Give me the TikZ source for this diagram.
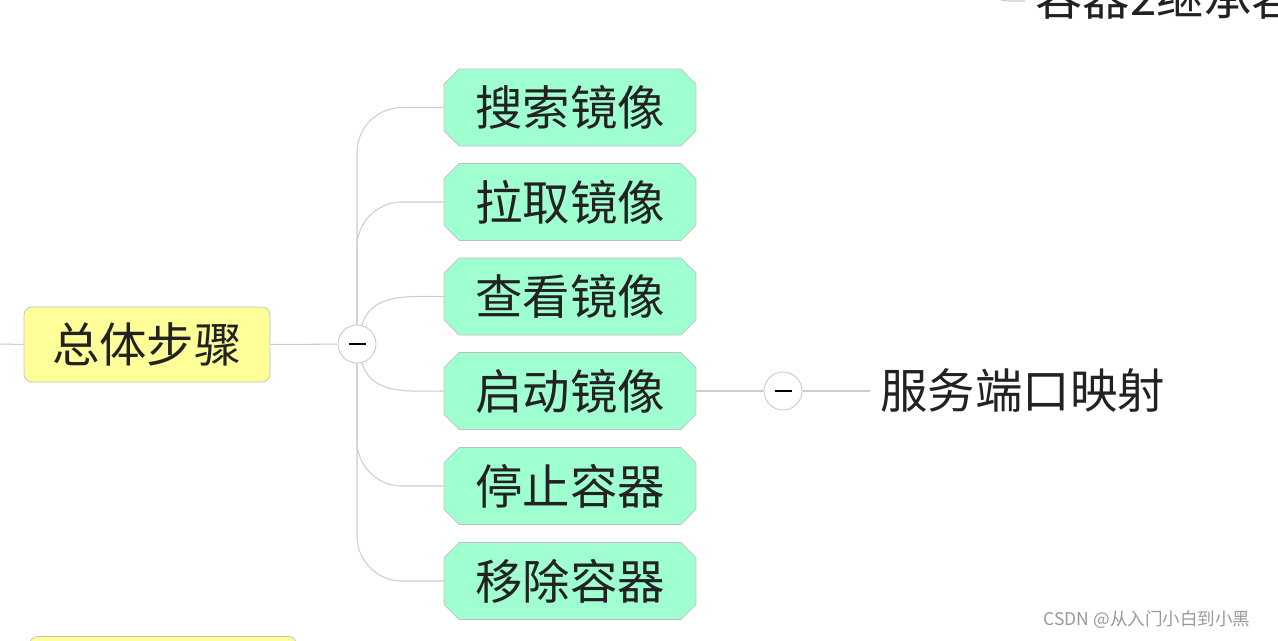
\documentclass[tikz,border=0pt]{standalone}
\usepackage{fontspec}
\newfontfamily\cjk{Noto Sans CJK SC}
\usepackage{tikz}
\usetikzlibrary{positioning,shapes.misc}
\definecolor{mintgreen}{RGB}{160,255,208}
\definecolor{paleyellow}{RGB}{255,255,153}
\definecolor{edgegray}{RGB}{192,192,192}
\definecolor{linegray}{RGB}{205,205,205}
\definecolor{inkgray}{RGB}{34,34,34}

\begin{document}
\begin{tikzpicture}[x=0.02cm, y=-0.02cm,
    topic/.style={rectangle, rounded corners=0.16cm, draw=edgegray, fill=paleyellow, minimum width=4.92cm, minimum height=1.5cm, text=inkgray, font=\cjk\fontsize{27}{30}\selectfont},
    stepnode/.style={chamfered rectangle, chamfered rectangle xsep=0.15cm, chamfered rectangle ysep=0.15cm, draw=edgegray, fill=mintgreen, minimum width=5.04cm, minimum height=1.54cm, inner sep=0pt, text=inkgray, font=\cjk\fontsize{27}{30}\selectfont},
    leaf/.style={inner sep=0.2cm, text=inkgray, font=\cjk\fontsize{27}{30}\selectfont},
    fold/.style={circle, draw=edgegray, fill=white, minimum size=0.76cm, inner sep=0pt, text=black},
    link/.style={draw=linegray, line width=0.6pt}]
  \useasboundingbox (0,0) rectangle (1278,640);
  \clip (0,0) rectangle (1278,640);

  % main topic and its fold button
  \coordinate (r0) at (0,344);
  \node[topic] (main) at (147,344.5) {总体步骤};
  \node[fold] (c1) at (357,344) {\rule{0.34cm}{0.7pt}};

  \node[stepnode] (s1) at (570,107.5) {搜索镜像};
  \node[stepnode] (s2) at (570,202) {拉取镜像};
  \node[stepnode] (s3) at (570,296.5) {查看镜像};
  \node[stepnode] (s4) at (570,391) {启动镜像};
  \node[stepnode] (s5) at (570,486) {停止容器};
  \node[stepnode] (s6) at (570,581) {移除容器};

  \node[fold] (c2) at (783,391) {\rule{0.34cm}{0.7pt}};
  \node[leaf, anchor=west] (port) at (870,391) {服务端口映射};

  % cut off parts at the edges
  \coordinate (p2) at (983,-60);
  \node[leaf, anchor=west] (inherit) at (1025,-3) {容器2继承容};
  \node[topic, minimum width=5.34cm, minimum height=1.54cm] (next) at (163,675) {};

  \draw[link] (r0) -- (main.west);
  \draw[link] (main.east) -- (c1);
  \draw[link, rounded corners=0.9cm] (c1) |- (s1.west);
  \draw[link, rounded corners=0.9cm] (c1) |- (s2.west);
  \draw[link] (c1.75) to[out=75,in=180] (s3.west);
  \draw[link] (c1.-75) to[out=-75,in=180] (s4.west);
  \draw[link, rounded corners=0.9cm] (c1) |- (s5.west);
  \draw[link, rounded corners=0.9cm] (c1) |- (s6.west);
  \draw[link] (s4.east) -- (c2);
  \draw[link] (c2) -- (port.west);
  \draw[link, rounded corners=0.5cm] (p2) |- ([yshift=-0.08cm]inherit.west);

  \node[text=black!40, font=\cjk\fontsize{10}{12}\selectfont] (mark) at (1147,620) {CSDN @从入门小白到小黑};
\end{tikzpicture}
\end{document}
